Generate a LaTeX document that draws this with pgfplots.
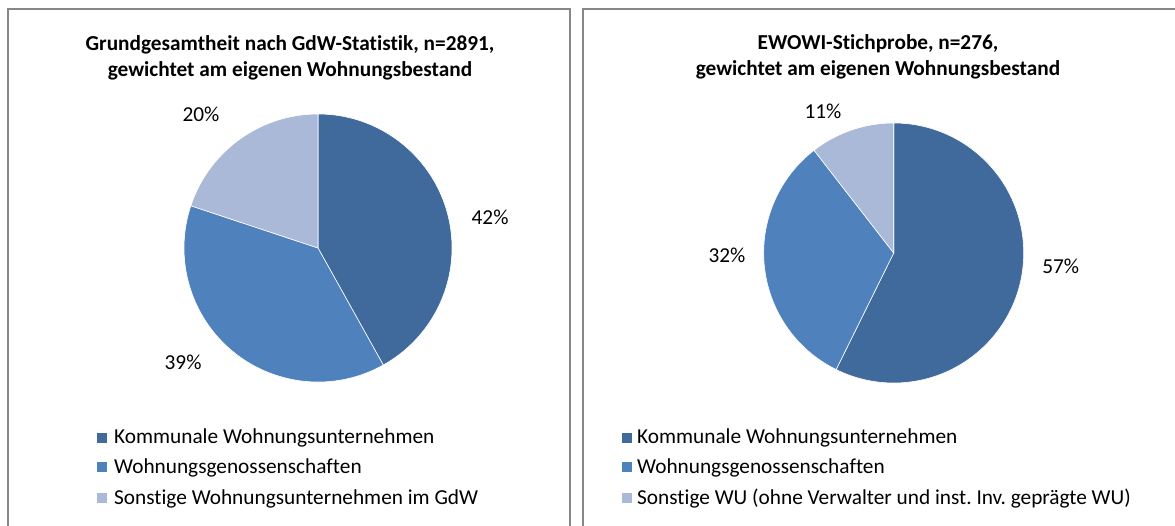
\documentclass[border=0pt]{standalone}
\usepackage{pgfplots}
\pgfplotsset{compat=1.18}
\usepackage{pgfplotstable}
\usepackage{fontspec}
\setmainfont[Ligatures=NoCommon]{Carlito}
\frenchspacing
\definecolor{pie0}{HTML}{406A9B}
\definecolor{pie1}{HTML}{4F81BD}
\definecolor{pie2}{HTML}{A9B9D7}
\definecolor{frame}{HTML}{878787}

% share in percent, printed label, label position (axis units)
\pgfplotstableread{
share lab lx ly
41.9 42 1.284 0.231
38.2 39 -1.007 -0.851
19.9 20 -0.873 1.000
}\leftdata
\pgfplotstableread{
share lab lx ly
57.3 57 1.285 -0.100
32.2 32 -1.282 -0.015
10.5 11 -0.544 1.092
}\rightdata

\newcommand\preppie[2]{%
  \xdef\cum{90}%
  \foreach \i in {0,1,2}{%
    \pgfplotstablegetelem{\i}{share}\of{#1}\let\v\pgfplotsretval
    \pgfmathsetmacro\e{\cum-3.6*\v}%
    \expandafter\xdef\csname #2s\i\endcsname{\cum}%
    \expandafter\xdef\csname #2e\i\endcsname{\e}%
    \pgfplotstablegetelem{\i}{lab}\of{#1}%
    \expandafter\xdef\csname #2l\i\endcsname{\pgfplotsretval}%
    \pgfplotstablegetelem{\i}{lx}\of{#1}%
    \expandafter\xdef\csname #2x\i\endcsname{\pgfplotsretval}%
    \pgfplotstablegetelem{\i}{ly}\of{#1}%
    \expandafter\xdef\csname #2y\i\endcsname{\pgfplotsretval}%
    \xdef\cum{\e}%
  }%
}
\preppie{\leftdata}{L}
\preppie{\rightdata}{R}

\newcommand\fs{\fontsize{21.3}{25}\selectfont}

\begin{document}
\begin{tikzpicture}[x=1pt,y=1pt]
\useasboundingbox (0,0) rectangle (1175,526);
\draw[frame, line width=2pt] (8,{526-9}) rectangle (570,-30);
\draw[frame, line width=2pt] (583,{526-9}) rectangle (1200,-30);

% titles
\node[font=\fs\bfseries, align=center, inner sep=0pt] at (290,{526-58})
  {Grundgesamtheit nach GdW-Statistik, n=2891,\\[1pt]gewichtet am eigenen Wohnungsbestand};
\node[font=\fs\bfseries, align=center, inner sep=0pt] at (878,{526-57})
  {EWOWI-Stichprobe, n=276,\\[1pt]gewichtet am eigenen Wohnungsbestand};

% left pie
\begin{axis}[at={(318pt,278pt)}, anchor=origin, x=134pt, y=134pt,
  xmin=-1, xmax=1, ymin=-1, ymax=1, hide axis, clip=false]
\pgfplotsinvokeforeach{0,1,2}{
  \fill[pie#1, draw=white, line width=0.6pt] (axis cs:0,0) --
    (axis cs:{cos(\csname Ls#1\endcsname)},{sin(\csname Ls#1\endcsname)})
    arc[start angle=\csname Ls#1\endcsname, end angle=\csname Le#1\endcsname, radius=134pt] -- cycle;
  \node[font=\fs] at (axis cs:\csname Lx#1\endcsname,\csname Ly#1\endcsname) {\csname Ll#1\endcsname\%};
}
\end{axis}

% right pie
\begin{axis}[at={(893.7pt,273pt)}, anchor=origin, x=130pt, y=130pt,
  xmin=-1, xmax=1, ymin=-1, ymax=1, hide axis, clip=false]
\pgfplotsinvokeforeach{0,1,2}{
  \fill[pie#1, draw=white, line width=0.6pt] (axis cs:0,0) --
    (axis cs:{cos(\csname Rs#1\endcsname)},{sin(\csname Rs#1\endcsname)})
    arc[start angle=\csname Rs#1\endcsname, end angle=\csname Re#1\endcsname, radius=130pt] -- cycle;
  \node[font=\fs] at (axis cs:\csname Rx#1\endcsname,\csname Ry#1\endcsname) {\csname Rl#1\endcsname\%};
}
\end{axis}

% legends
\foreach \c/\yy/\t in {pie0/438/Kommunale Wohnungsunternehmen, pie1/467.5/Wohnungsgenossenschaften, pie2/498.5/Sonstige Wohnungsunternehmen im GdW}{
  \fill[\c] (97,{526-\yy-5}) rectangle ++(10,10);
  \node[font=\fs, anchor=west, inner sep=0pt] at (114,{526-\yy}) {\t};
}
\foreach \c/\yy/\t in {pie0/438/Kommunale Wohnungsunternehmen, pie1/467.5/Wohnungsgenossenschaften, pie2/498.5/Sonstige WU (ohne Verwalter und inst. Inv. geprägte WU)}{
  \fill[\c] (621.5,{526-\yy-5}) rectangle ++(10,10);
  \node[font=\fs, anchor=west, inner sep=0pt] at (637,{526-\yy}) {\t};
}
\end{tikzpicture}
\end{document}
